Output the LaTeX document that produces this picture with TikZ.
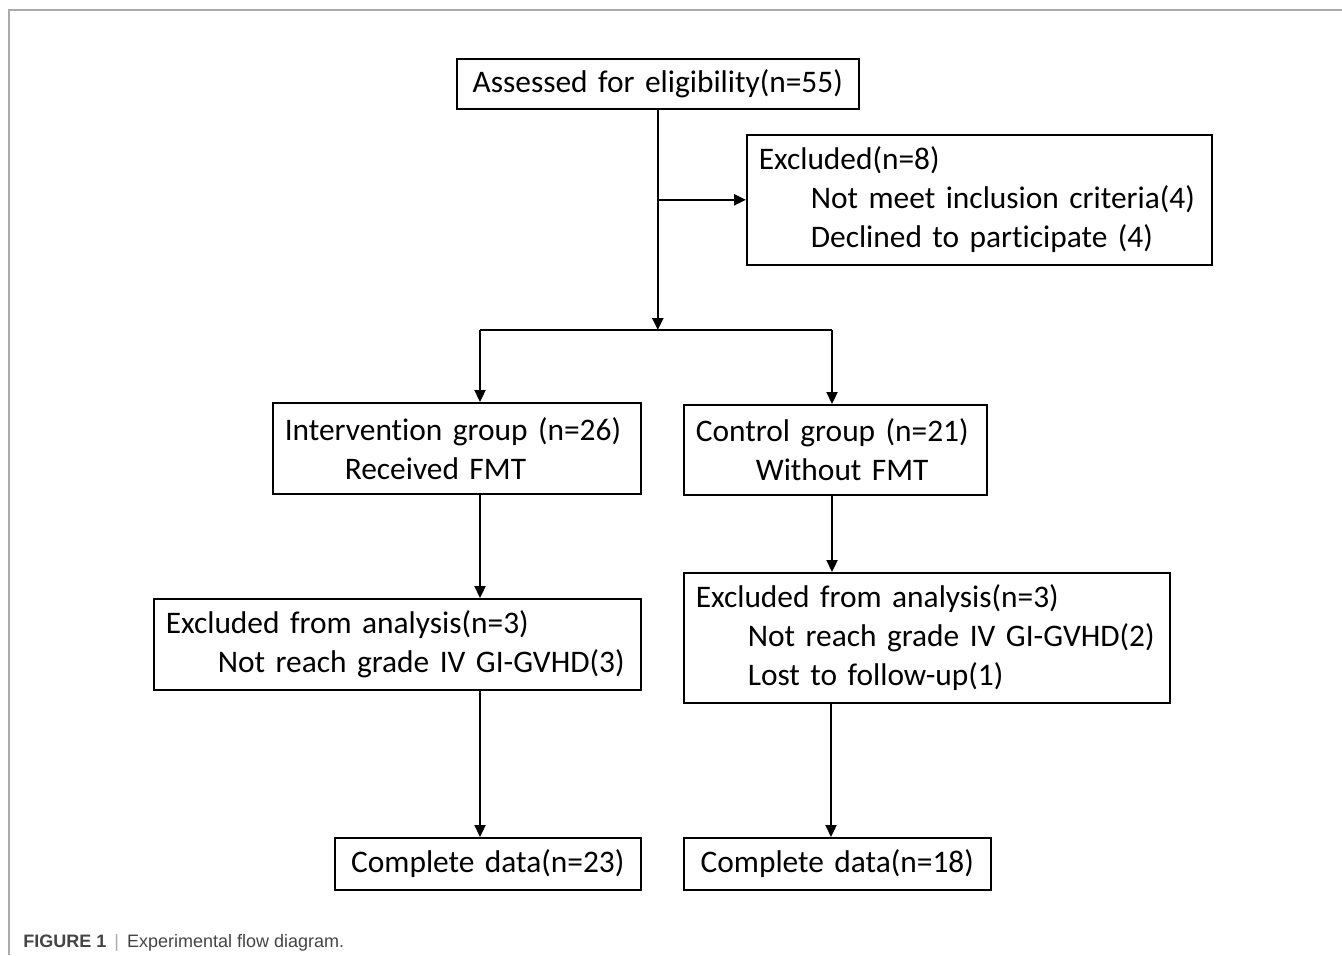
\documentclass[tikz,border=0pt]{standalone}
\usepackage{fontspec}
\newfontfamily\flowfont[Ligatures=NoCommon]{Carlito}
\newfontfamily\capfont{Liberation Sans}
\usetikzlibrary{arrows.meta}
\definecolor{framegray}{HTML}{AAAAAA}
\definecolor{capgray}{HTML}{444444}
\begin{document}
\begin{tikzpicture}[x=0.5pt, y=-0.5pt,
    box/.style={draw, line width=0.8pt, inner xsep=6pt, inner ysep=0pt, align=left, anchor=north west,
      font=\flowfont\fontsize{15.7}{19.5}\selectfont},
    link/.style={line width=1.1pt, -{Triangle[length=6pt,width=5.5pt]}}]
      \useasboundingbox (0, 0) rectangle (1342, 955);
      \draw [framegray, line width=0.6pt] (1342, 10) -- (9, 10) -- (9, 955);

      \node [box, text width=189pt, minimum height=25pt, align=center] (assess) at (456, 58) {Assessed for eligibility(n=55)};
      \node [box, text width=220.5pt, minimum height=65pt] (excl) at (746, 134)
        {\mbox{Excluded(n=8)}\\\mbox{\hspace*{26pt}Not meet inclusion criteria(4)}\\\mbox{\hspace*{26pt}Declined to participate (4)}};
      \node [box, text width=172pt, minimum height=45.5pt] (inter) at (272, 402)
        {\mbox{Intervention group (n=26)}\\\mbox{\hspace*{30pt}Received FMT}};
      \node [box, text width=139.5pt, minimum height=45pt] (ctrl) at (683, 404)
        {\mbox{Control group (n=21)}\\\mbox{\hspace*{30pt}Without FMT}};
      \node [box, text width=231.5pt, minimum height=45.5pt] (exleft) at (153, 598)
        {\mbox{Excluded from analysis(n=3)}\\\mbox{\hspace*{26pt}Not reach grade IV GI-GVHD(3)}};
      \node [box, text width=231pt, minimum height=65pt] (exright) at (683, 572)
        {\mbox{Excluded from analysis(n=3)}\\\mbox{\hspace*{26pt}Not reach grade IV GI-GVHD(2)}\\\mbox{\hspace*{26pt}Lost to follow-up(1)}};
      \node [box, text width=141pt, minimum height=26pt, align=center] (doneleft) at (334, 837) {Complete data(n=23)};
      \node [box, text width=141.5pt, minimum height=26pt, align=center] (doneright) at (683, 837) {Complete data(n=18)};

      % trunk and split
      \coordinate (lx) at (480, 330);
      \coordinate (rx) at (832, 330);
      \coordinate (split) at (assess.south |- lx);
      \coordinate (side) at (assess.south |- excl.west);
      \draw [link] (assess.south) -- (split);
      \draw [link] (side) -- (excl.west);
      \draw [line width=1.1pt] (lx) -- (rx);
      \draw [link] (lx) -- (lx |- inter.north);
      \draw [link] (rx) -- (rx |- ctrl.north);

      % down the two arms
      \draw [link] (lx |- inter.south) -- (lx |- exleft.north);
      \draw [link] (lx |- exleft.south) -- (lx |- doneleft.north);
      \draw [link] (rx |- ctrl.south) -- (rx |- exright.north);
      \draw [link] ([xshift=-0.5pt] rx |- exright.south) -- ([xshift=-0.5pt] rx |- doneright.north);

      \node [anchor=base west, inner sep=0pt, font=\capfont\fontsize{9}{11}\selectfont] (caption) at (23, 947)
        {\textcolor{capgray}{\textbf{FIGURE 1}}\hspace{4pt}\textcolor{framegray}{|}\hspace{4pt}\textcolor{capgray}{Experimental flow diagram.}};
    \end{tikzpicture}
\end{document}
